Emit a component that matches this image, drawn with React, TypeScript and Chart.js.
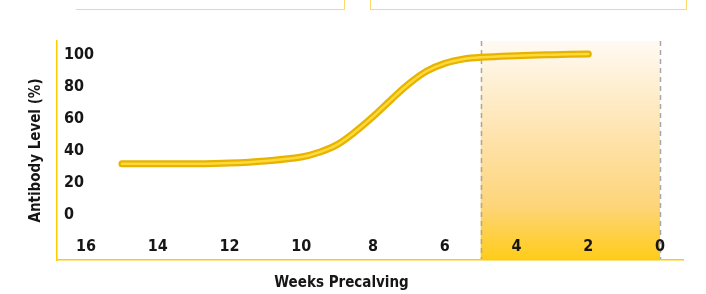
import React, { useEffect, useRef } from "react";
import { Chart, registerables } from "chart.js";

Chart.register(...registerables);

const weeks = [15, 14, 13, 12, 11, 10, 9.5, 9, 8.5, 8, 7.5, 7, 6.5, 6, 5.5, 5, 4, 3, 2];
const antibodyLevels = [32, 32, 32, 32.5, 33.8, 36.2, 39.2, 44, 52, 61.5, 72, 82, 90, 94.8, 97.4, 98.6, 99.6, 100.2, 100.6];
const xTicks = [16, 14, 12, 10, 8, 6, 4, 2, 0];
const yTicks = [0, 20, 40, 60, 80, 100];
const shadedRange = [5, 0];

const FONT = "'Liberation Sans Narrow', 'DejaVu Sans Condensed', 'Roboto', sans-serif";
const TEXT = "#161616";
const GOLD = "#FFCC00";

const shadePlugin = {
  id: "shade",
  beforeDraw(chart: any) {
    const { ctx, chartArea, scales } = chart;
    const x1 = scales.x.getPixelForValue(shadedRange[0]);
    const x2 = scales.x.getPixelForValue(shadedRange[1]);
    const left = Math.min(x1, x2);
    const right = Math.max(x1, x2);
    const g = ctx.createLinearGradient(0, chartArea.top, 0, chartArea.bottom);
    g.addColorStop(0, "#FFFAF3");
    g.addColorStop(0.45, "#FEE2AA");
    g.addColorStop(0.75, "#FDD57A");
    g.addColorStop(1, "#FFCC18");
    ctx.save();
    ctx.fillStyle = g;
    ctx.fillRect(left, chartArea.top, right - left, chartArea.bottom - chartArea.top);
    ctx.strokeStyle = "#A8A8A8";
    ctx.lineWidth = 1.5;
    ctx.setLineDash([5, 4]);
    [x1, x2].forEach((x) => {
      ctx.beginPath();
      ctx.moveTo(Math.round(x) + 0.5, chartArea.top);
      ctx.lineTo(Math.round(x) + 0.5, chartArea.bottom);
      ctx.stroke();
    });
    ctx.restore();
  },
};

export default function App() {
  const ref = useRef<HTMLCanvasElement | null>(null);

  useEffect(() => {
    if (!ref.current) return;
    const points = weeks.map((w, i) => ({ x: w, y: antibodyLevels[i] }));
    const tickFont = { family: FONT, size: 16, weight: "bold" as const, lineHeight: 1.2 };
    const titleFont = { family: FONT, size: 15, weight: "bold" as const, lineHeight: 1.2 };
    const chart = new Chart(ref.current, {
      type: "line",
      data: {
        datasets: [
          {
            data: points,
            borderColor: "#FFD83A",
            borderWidth: 2.5,
            borderCapStyle: "round",
            pointRadius: 0,
            tension: 0.4,
            fill: false,
            order: 0,
          },
          {
            data: points,
            borderColor: "#E6B400",
            borderWidth: 7,
            borderCapStyle: "round",
            pointRadius: 0,
            tension: 0.4,
            fill: false,
            order: 1,
          },
        ],
      },
      options: {
        animation: false,
        responsive: true,
        maintainAspectRatio: false,
        layout: { padding: { top: 41, right: 23, left: 0, bottom: 0 } },
        plugins: {
          legend: { display: false },
          tooltip: { enabled: false },
          title: {
            display: true,
            position: "bottom",
            text: "Weeks Precalving",
            color: TEXT,
            font: titleFont,
            padding: { top: 0, bottom: 2 },
          },
        },
        scales: {
          x: {
            type: "linear",
            reverse: true,
            min: -0.64,
            max: 16.81,
            afterBuildTicks: (s: any) => {
              s.ticks = xTicks.map((v) => ({ value: v }));
            },
            afterFit: (s: any) => {
              s.height = 14;
            },
            grid: { display: false, drawTicks: false },
            border: { display: true, color: GOLD, width: 1.5 },
            ticks: {
              mirror: true,
              padding: 3.4,
              color: TEXT,
              font: tickFont,
              maxRotation: 0,
              autoSkip: false,
            },
          },
          y: {
            type: "linear",
            min: -28.125,
            max: 108.75,
            afterBuildTicks: (s: any) => {
              s.ticks = yTicks.map((v) => ({ value: v }));
            },
            afterFit: (s: any) => {
              s.width = 57;
            },
            grid: { display: false, drawTicks: false },
            border: { display: true, color: GOLD, width: 1.5 },
            ticks: {
              mirror: true,
              padding: 7,
              color: TEXT,
              font: tickFont,
            },
            title: {
              display: true,
              text: "Antibody Level (%)",
              color: TEXT,
              font: titleFont,
              padding: { top: 27, bottom: 0 },
            },
          },
        },
      },
      plugins: [shadePlugin],
    });
    return () => chart.destroy();
  }, []);

  return (
    <div style={{ position: "absolute", left: 0, top: 0, width: 706, height: 294, background: "#fff", overflow: "hidden" }}>
      <div
        style={{
          position: "absolute",
          left: 76,
          top: -20,
          width: 268,
          height: 29,
          borderRight: "1.5px solid #FFD966",
          borderBottom: "1.5px solid #FFD966",
        }}
      />
      <div
        style={{
          position: "absolute",
          left: 370,
          top: -20,
          width: 315,
          height: 28,
          border: "1.5px solid #FFD966",
        }}
      />
      <div style={{ position: "absolute", left: 0, top: 0, width: 706, height: 294 }}>
        <canvas ref={ref} />
      </div>
    </div>
  );
}
